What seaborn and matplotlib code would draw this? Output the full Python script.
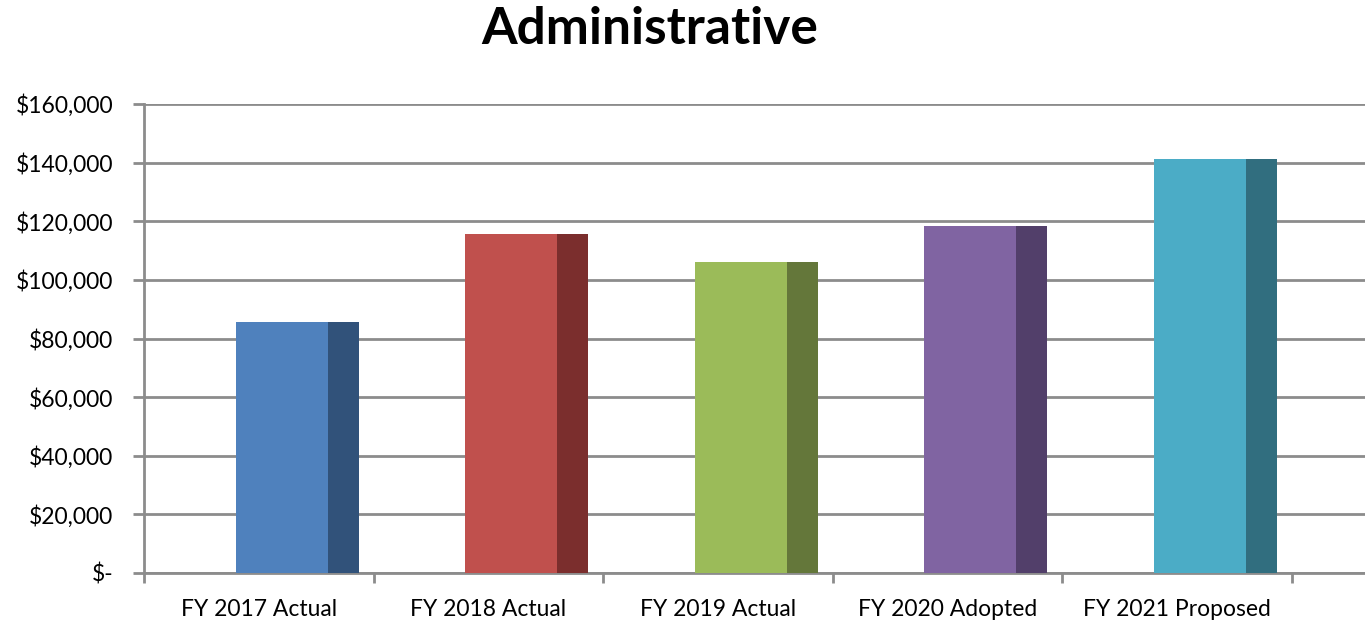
import numpy as np
import pandas as pd
import seaborn as sns
import matplotlib.pyplot as plt
from matplotlib.ticker import FuncFormatter, FixedLocator

# chart values
categories = ['FY 2017 Actual', 'FY 2018 Actual', 'FY 2019 Actual', 'FY 2020 Adopted', 'FY 2021 Proposed']
amounts = [85700, 115700, 106100, 118500, 141100]
front_colors = ['#4F81BD', '#C0504D', '#9BBB59', '#8064A2', '#4BACC6']
side_colors = ['#31527A', '#7B2E2D', '#64773A', '#523F6A', '#316E7F']

df = pd.DataFrame({'category': categories, 'amount': amounts})

sns.set_style('white')
plt.rcParams['font.family'] = ['Lato', 'DejaVu Sans']

fig = plt.figure(figsize=(13.65, 6.22), dpi=100)
ax = fig.add_axes([144 / 1365, 49 / 622, 1221 / 1365, 469 / 622])

# front faces of the pseudo-3D columns
sns.barplot(data=df, x='category', y='amount', hue='category', palette=front_colors,
            width=0.4, legend=False, ax=ax, saturation=1, zorder=3)
shift = 0.1
for p in ax.patches:
    p.set_x(p.get_x() + shift)
    p.set_linewidth(0)

# darker side faces
xs = np.arange(len(categories))
ax.bar(xs + shift + 0.2 + 0.0675, amounts, width=0.135, color=side_colors, linewidth=0, zorder=3)

ax.set_xlim(-0.5, 4.82)
ax.set_ylim(0, 160000)
ax.set_yticks(np.arange(0, 160001, 20000))
ax.yaxis.set_major_formatter(FuncFormatter(lambda v, _: '$-' if v == 0 else f'${v:,.0f}'))
ax.grid(axis='y', color='#8C8C8C', linewidth=2, zorder=0)
ax.set_axisbelow(True)

for side in ['top', 'right']:
    ax.spines[side].set_visible(False)
for side in ['left', 'bottom']:
    ax.spines[side].set_color('#8C8C8C')
    ax.spines[side].set_linewidth(2)

ax.tick_params(axis='y', which='major', length=8, width=2, color='#8C8C8C', labelsize=16.5,
               labelcolor='black', pad=14, left=True)
ax.tick_params(axis='x', which='major', length=0, labelsize=16.5, labelcolor='black', pad=19)
ax.xaxis.set_minor_locator(FixedLocator(np.arange(-0.5, 5, 1.0)))
ax.tick_params(axis='x', which='minor', length=7, width=2, color='#8C8C8C', bottom=True)
ax.set_xlabel('')
ax.set_ylabel('')

fig.text(650 / 1365, 1 - 29 / 622, 'Administrative', ha='center', va='center',
         fontsize=37, fontweight='bold', color='black')

fig.savefig('out.png', dpi=100)
